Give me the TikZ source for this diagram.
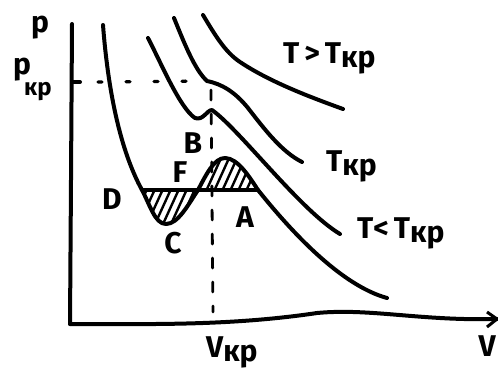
\documentclass[tikz,border=0pt]{standalone}
\usepackage{fontspec}
\setmainfont{Fira Sans}
\begin{document}
\begin{tikzpicture}[x=1pt,y=-1pt,
  curve/.style={line width=4pt, line cap=round, line join=round},
  hatchline/.style={line width=2.4pt},
  dotline/.style={line width=3.4pt, line cap=round, dash pattern=on 4pt off 24pt},
  vdash/.style={line width=2.8pt, line cap=round, dash pattern=on 10pt off 14pt},
  lbl/.style={font=\fontsize{30}{30}\selectfont\bfseries, inner sep=0pt},
  sub/.style={font=\fontsize{24}{24}\selectfont\bfseries, inner sep=0pt}]
\useasboundingbox (0,0) rectangle (498,373);
% axes
\coordinate (yt) at (72,24);
\coordinate (o) at (70,324);
\coordinate (xe) at (497,319);
\draw[curve] (yt) -- (71,180) -- (o);
\draw[curve] (o) .. controls (150,324) and (230,326) .. (317,313) .. controls (370,308) and (420,321) .. (xe);
\draw[line width=3pt] (487,312) -- (xe) -- (487,327);
% critical point and dashed lines
\coordinate (k) at (207,81);
\coordinate (pk) at (72,82);
\coordinate (vk) at (213,312);
\draw[curve] (pk) -- (80,82);
\draw[dotline] (98,82) -- (k);
\draw[vdash] (211,90) -- (vk);
% hatched regions
\begin{scope}
\clip (142,190) .. controls (150,205) and (155,224) .. (166,224) .. controls (178,224) and (188,205) .. (198,190) -- cycle;
\foreach \i in {110,118,...,200} \draw[hatchline] (\i,235) -- ++(32,-70);
\end{scope}
\begin{scope}
\clip (198,190) .. controls (206,175) and (214,158) .. (225,158) .. controls (238,158) and (250,178) .. (258,190) -- cycle;
\foreach \i in {170,178,...,265} \draw[hatchline] (\i,200) -- ++(25,-55);
\end{scope}
% isotherm with loop (T < Tkp)
\coordinate (D) at (142,190);
\coordinate (C) at (166,224);
\coordinate (F) at (198,190);
\coordinate (B) at (225,158);
\coordinate (A) at (258,190);
\draw[curve] (103,25) .. controls (108,90) and (120,150) .. (D)
  .. controls (150,205) and (155,224) .. (C)
  .. controls (178,224) and (188,205) .. (F)
  .. controls (206,175) and (214,158) .. (B)
  .. controls (238,158) and (250,178) .. (A)
  .. controls (290,230) and (340,285) .. (387,298);
\draw[curve] (D) -- (A);
% isotherm with dip (T < Tkp)
\draw[curve] (148,38) .. controls (162,65) and (180,108) .. (195,118)
  .. controls (203,121) and (207,110) .. (212,110)
  .. controls (240,130) and (300,210) .. (340,234);
% critical isotherm
\draw[curve] (174,18) .. controls (185,45) and (195,70) .. (k)
  .. controls (222,84) and (235,92) .. (248,108)
  .. controls (265,130) and (282,152) .. (302,162);
% T > Tkp
\draw[curve] (203,15) .. controls (215,35) and (225,52) .. (240,62)
  .. controls (270,82) and (310,97) .. (343,109);
% labels
\newcommand{\kp}{\raisebox{-4pt}{кр}}
\node[lbl] (lp) at (40,28) {p};
\node[lbl] (lpk) at (22,70) {p};
\node[sub, anchor=west] (lpks) at (24,92) {кр};
\node[lbl, anchor=west] (lTg) at (283,58) {T\,>\,T\kp};
\node[lbl, anchor=west] (lTk) at (326,166) {T\kp};
\node[lbl, anchor=west] (lTl) at (357,233) {T<\,T\kp};
\node[lbl, anchor=west] (lVk) at (206,352) {V\kp};
\node[lbl, anchor=east] (lV) at (496,346) {V};
\node[lbl] (lD) at (112,199) {D};
\node[lbl] (lC) at (173,243) {C};
\node[lbl] (lF) at (180,172) {F};
\node[lbl] (lB) at (193,143) {B};
\node[lbl] (lA) at (245,217) {A};
\end{tikzpicture}
\end{document}
